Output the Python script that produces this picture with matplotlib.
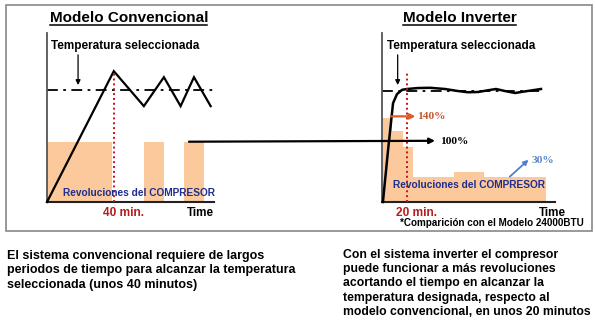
import matplotlib
matplotlib.use("Agg")
import matplotlib.pyplot as plt
from matplotlib.patches import Rectangle, ConnectionPatch

plt.rcParams["font.family"] = ["Liberation Sans", "DejaVu Sans"]

# ---- data -------------------------------------------------------------
# Conventional model: temperature curve (minutes, level) and on/off compressor
conv_time = [0, 40, 58, 70, 80, 88, 98]
conv_temp = [0, 217, 159, 207, 159, 207, 159]
conv_setpoint = 185
conv_bar_start = [0, 58, 82]
conv_bar_end = [39, 70, 94]
conv_bar_speed = [100, 100, 100]   # % compressor speed

# Inverter model: temperature curve and variable compressor speed
inv_time = [0.5, 4.6, 8.6, 11.8, 15.8, 19.8, 28.6, 38.2, 50.2, 60.6, 68.6,
            76.6, 83.8, 91, 98.2, 106.2, 115, 120.6, 127]
inv_temp = [0, 86, 164, 179, 186, 187.4, 189, 189.4, 187.4, 184, 182,
            182.4, 185, 187.4, 184, 180.8, 183.7, 185.4, 187.4]
inv_setpoint = 184
inv_bar_start = [0, 7.5, 16.3, 24.8, 57.4, 81.6]
inv_bar_end = [7.5, 16.3, 24.8, 57.4, 81.6, 131]
inv_bar_speed = [140, 117, 92, 41, 49, 41]

conv_reach_min = 40
inv_reach_min = 20
speed_labels = ["140%", "100%", "30%"]

# ---- layout -----------------------------------------------------------
W, H = 595, 327
fig = plt.figure(figsize=(W / 100, H / 100), dpi=100)

def px_axes(x0, y_bottom, width, height):
    return fig.add_axes([x0 / W, (H - y_bottom) / H, width / W, height / H])

YMAX = 280
PX_PER_UNIT = 0.603
ax_h = YMAX * PX_PER_UNIT

ax_l = px_axes(47, 202, 167, ax_h)
ax_r = px_axes(382.3, 202, 172.7, ax_h)
ax_l.set_xlim(0, 100)
ax_r.set_xlim(0, 138.2)

orange = "#fbc99b"
navy = "#1f2d8c"
red = "#b41e1e"

for ax in (ax_l, ax_r):
    ax.set_ylim(0, YMAX)
    ax.set_xticks([])
    ax.set_yticks([])
    ax.patch.set_alpha(0)
    for s in ("top", "right"):
        ax.spines[s].set_visible(False)
    ax.spines["left"].set_color("#555555")
    ax.spines["left"].set_linewidth(1.3)
    ax.spines["bottom"].set_color("#222222")
    ax.spines["bottom"].set_linewidth(1.5)

# compressor bars
ax_l.bar(conv_bar_start, conv_bar_speed,
         width=[e - s for s, e in zip(conv_bar_start, conv_bar_end)],
         align="edge", color=orange, linewidth=0, zorder=1)
ax_r.bar(inv_bar_start, inv_bar_speed,
         width=[e - s for s, e in zip(inv_bar_start, inv_bar_end)],
         align="edge", color=orange, linewidth=0, zorder=1)

# set point lines
ax_l.plot([0, 102], [conv_setpoint] * 2, color="black", lw=1.3,
          dashes=(6, 3, 1.5, 3), zorder=2, clip_on=False)
ax_r.plot([0, 128.5], [inv_setpoint] * 2, color="black", lw=1.3,
          dashes=(6, 3, 1.5, 3), zorder=2, clip_on=False)

# temperature curves
ax_l.plot(conv_time, conv_temp, color="black", lw=1.6, zorder=3,
          solid_joinstyle="miter", clip_on=False)
ax_r.plot(inv_time, inv_temp, color="black", lw=1.8, zorder=3, clip_on=False)

# time-to-setpoint markers
ax_l.plot([conv_reach_min] * 2, [0, 217], color="#cc1111", lw=1.4,
          ls=(0, (1, 1.5)), zorder=4, clip_on=False)
ax_r.plot([inv_reach_min] * 2, [0, 216], color="#cc1111", lw=1.4,
          ls=(0, (1, 1.5)), zorder=4, clip_on=False)

# set point arrows
for ax, xa in ((ax_l, 18.6), (ax_r, 12.3)):
    ax.annotate("", xy=(xa, 194), xytext=(xa, 244),
                arrowprops=dict(arrowstyle="-|>", color="black", lw=0.9,
                                mutation_scale=7, shrinkA=0, shrinkB=0),
                annotation_clip=False)

# 100% arrow across panels
con = ConnectionPatch(xyA=(85, 100), coordsA=ax_l.transData,
                      xyB=(42.2, 101.5), coordsB=ax_r.transData,
                      arrowstyle="-|>", color="black", lw=1.6,
                      mutation_scale=8, shrinkA=0, shrinkB=0, zorder=5)
fig.add_artist(con)

# 140% arrow
ax_r.annotate("", xy=(26.5, 142), xytext=(7, 142),
              arrowprops=dict(arrowstyle="-|>", color="#e05a2a", lw=1.6,
                              mutation_scale=8, shrinkA=0, shrinkB=0),
              annotation_clip=False, zorder=5)
# 30% arrow
ax_r.annotate("", xy=(117, 70), xytext=(102, 42),
              arrowprops=dict(arrowstyle="-|>", color="#4f7fc8", lw=1.3,
                              mutation_scale=7, shrinkA=0, shrinkB=0),
              annotation_clip=False, zorder=5)

# ---- text overlay (pixel coordinates) ---------------------------------
ov = fig.add_axes([0, 0, 1, 1], zorder=10)
ov.set_xlim(0, W)
ov.set_ylim(H, 0)
ov.axis("off")
ov.patch.set_alpha(0)

ov.add_patch(Rectangle((5.5, 5), 586.5, 226, fill=False, ec="#888888", lw=1.2))

def txt(x, y, s, size, color="black", ha="left", family=None, **kw):
    kwargs = dict(fontsize=size, color=color, ha=ha, va="center",
                  fontweight="bold")
    if family:
        kwargs["family"] = family
    kwargs.update(kw)
    return ov.text(x, y, s, **kwargs)

# titles
for x0, x1, s in ((50, 207, "Modelo Convencional"), (403, 516, "Modelo Inverter")):
    txt(x0, 18.5, s, 11)
    ov.plot([x0, x1], [25.3, 25.3], color="black", lw=1.1)

txt(51, 46, "Temperatura seleccionada", 8.5)
txt(387, 46, "Temperatura seleccionada", 8.5)

txt(63, 193, "Revoluciones del COMPRESOR", 7.3, color=navy)
txt(392.7, 185, "Revoluciones del COMPRESOR", 7.3, color=navy)

txt(123.5, 213.5, f"{conv_reach_min} min.", 8.6, color=red, ha="center")
txt(417, 213.5, f"{inv_reach_min} min.", 8.6, color=red, ha="center")
txt(200, 213.5, "Time", 8.4, ha="center")
txt(552.5, 213.5, "Time", 8.4, ha="center")

serif = ["Liberation Serif", "DejaVu Serif"]
txt(417, 116.5, speed_labels[0], 8.2, color="#c8552d", family=serif)
txt(440, 141, speed_labels[1], 8.2, color="black", family=serif)
txt(531.5, 160.5, speed_labels[2], 8.2, color="#5b86c8", family=serif)

txt(584, 223.5, "*Comparición con el Modelo 24000BTU", 7.1, ha="right")

left_par = ["El sistema convencional requiere de largos",
            "periodos de tiempo para alcanzar la temperatura",
            "seleccionada (unos 40 minutos)"]
right_par = ["Con el sistema inverter el compresor",
             "puede funcionar a más revoluciones",
             "acortando el tiempo en alcanzar la",
             "temperatura designada, respecto al",
             "modelo convencional, en unos 20 minutos"]
for i, line in enumerate(left_par):
    txt(7.3, 255.8 + i * 14.4, line, 9)
for i, line in enumerate(right_par):
    txt(343, 255 + i * 14.2, line, 8.8)

fig.savefig("out.png", dpi=100)
